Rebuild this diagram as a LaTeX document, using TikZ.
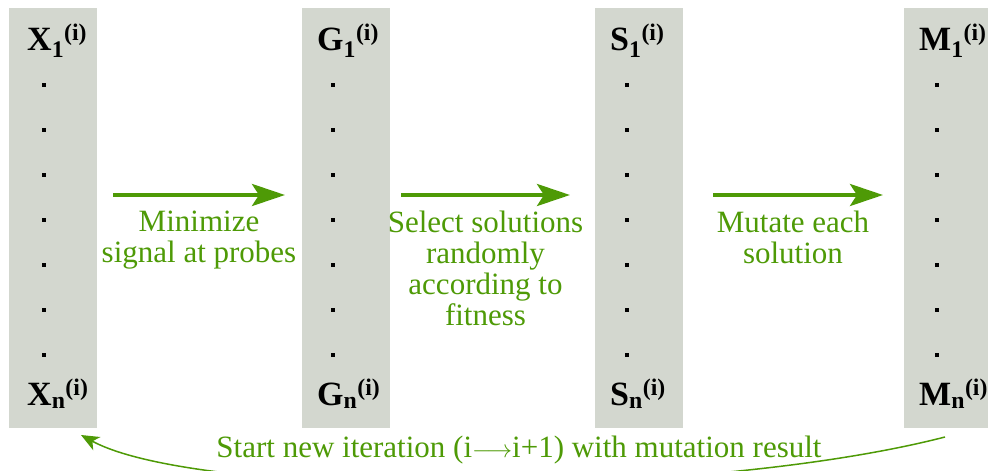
\documentclass[tikz,border=0pt]{standalone}
\usepackage{fontspec}
\setmainfont{Liberation Serif}
\usepackage{xcolor}
\usetikzlibrary{positioning,arrows.meta}
\definecolor{colgray}{HTML}{D3D7CF}
\definecolor{stepgreen}{HTML}{4E9A06}
\tikzstyle{col}=[%
      rectangle, fill=colgray, draw=none,
      minimum width=88pt, minimum height=420pt, inner sep=0pt
]
\tikzstyle{lbl}=[%
      font=\fontsize{34}{40}\selectfont\bfseries, inner sep=0pt, anchor=base west
]
\tikzstyle{vdot}=[%
      rectangle, fill=black, minimum size=4.5pt, inner sep=0pt
]
\tikzstyle{txt}=[%
      text=stepgreen, font=\fontsize{31}{31}\selectfont, align=center, inner sep=0pt
]
\tikzstyle{flow}=[%
      -{Stealth[length=33pt, width=22pt, inset=7pt]}, line width=4pt, draw=stepgreen
]
\tikzstyle{back}=[%
      -{Stealth[length=18pt, width=15pt, inset=5pt]}, line width=1.5pt, draw=stepgreen
]

\begin{document}
\begin{tikzpicture}[x=1pt, y=-1pt]
\useasboundingbox (0,0) rectangle (988,471);
\clip (0,0) rectangle (988,471);

% columns
\node[col] (X) at (53,218) {};
\node[col] (G) at (346,218) {};
\node[col] (S) at (638.5,218) {};
\node[col] (M) at (948,218) {};

% first and last entries
\node[lbl] (X1) at (27,50) {X\textsubscript{1}\textsuperscript{(i)}};
\node[lbl] (Xn) at (27,405) {X\textsubscript{n}\textsuperscript{(i)}};
\node[lbl] (G1) at (317,50) {G\textsubscript{1}\textsuperscript{(i)}};
\node[lbl] (Gn) at (317,405) {G\textsubscript{n}\textsuperscript{(i)}};
\node[lbl] (S1) at (610,50) {S\textsubscript{1}\textsuperscript{(i)}};
\node[lbl] (Sn) at (610,405) {S\textsubscript{n}\textsuperscript{(i)}};
\node[lbl] (M1) at (919,50) {M\textsubscript{1}\textsuperscript{(i)}};
\node[lbl] (Mn) at (919,405) {M\textsubscript{n}\textsuperscript{(i)}};

% dots in between
\foreach \name/\x in {X/44, G/333, S/627, M/937}
  \foreach \k in {0,...,6}
    \node[vdot] (\name-d\k) at (\x,85+45*\k) {};

% steps
\coordinate (f1s) at (113,195);
\coordinate (f1e) at (285,195);
\coordinate (f2s) at (401,195);
\coordinate (f2e) at (570,195);
\coordinate (f3s) at (713,195);
\coordinate (f3e) at (883,195);

\draw[flow] (f1s) -- (f1e) coordinate[midway] (f1m);
\draw[flow] (f2s) -- (f2e) coordinate[midway] (f2m);
\draw[flow] (f3s) -- (f3e) coordinate[midway] (f3m);

\node[txt, anchor=north] (t1) at ([yshift=-16pt]f1m) {Minimize\\signal at probes};
\node[txt, anchor=north] (t2) at ([yshift=-16pt]f2m) {Select solutions\\randomly\\according to\\fitness};
\node[txt, anchor=north] (t3) at ([xshift=-5pt,yshift=-16pt]f3m) {Mutate each\\solution};

% back to the start
\coordinate (bs) at (945,437);
\coordinate (be) at (81,435);
\draw[back] (bs) .. controls (700,500) and (200,500) .. (be);
\node[txt, anchor=base] (t4) at (519,457) {Start new iteration (i$\longrightarrow$i+1) with mutation result};
\end{tikzpicture}
\end{document}
